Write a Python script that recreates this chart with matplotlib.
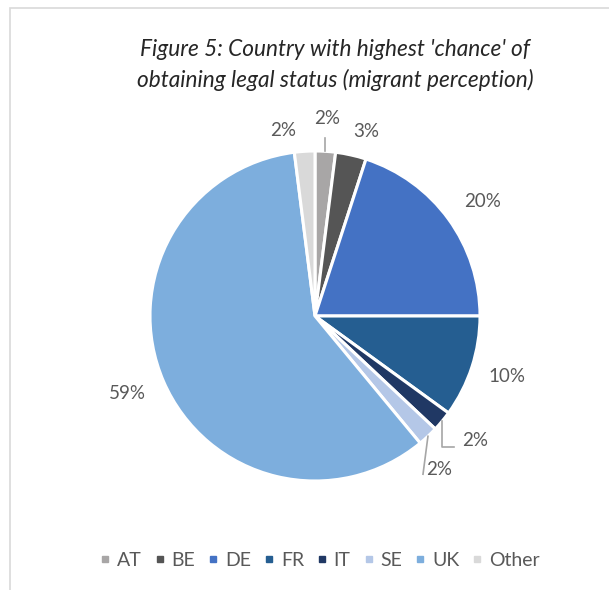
import numpy as np
import matplotlib
matplotlib.use("Agg")
import matplotlib.pyplot as plt
from matplotlib.patches import Rectangle

# Data
countries = ["AT", "BE", "DE", "FR", "IT", "SE", "UK", "Other"]
shares = [2, 3, 20, 10, 2, 2, 59, 2]
colors = ["#A8A6A6", "#555555", "#4472C4", "#255E91", "#203864", "#B4C7E7", "#7DAEDD", "#D9D9D9"]

# label placement (radius factor, angle shift in degrees clockwise from slice middle)
label_dist = [1.2, 1.16, 1.23, 1.22, 1.23, 1.2, 1.23, 1.14]
label_shift = [0, 2.8, 1.6, -0.4, -1.6, 4.2, 0.9, -6.2]

plt.rcParams['font.family'] = ['Lato', 'DejaVu Sans']

W, H, DPI = 609, 590, 100
fig = plt.figure(figsize=(W / DPI, H / DPI), dpi=DPI)

# chart frame (light gray, runs off the right/bottom edge)
fig.patches.append(Rectangle((10 / W, -0.1), 1.2, 1.1 - 8 / H, transform=fig.transFigure,
                             fill=False, edgecolor="#D9D9D9", linewidth=1.2))

# pie centre and radius in pixels
cx, cy, rad = 315, 316, 165
ax = fig.add_axes([0, 0, 1, 1])
wedges, _ = ax.pie(shares, colors=colors, startangle=90, counterclock=False,
                   wedgeprops=dict(edgecolor="white", linewidth=2.2))
ax.set_aspect("auto")
ax.set_xlim(-cx / rad, (W - cx) / rad)
ax.set_ylim((cy - H) / rad, cy / rad)
ax.axis("off")

# data labels
line_col = "#A6A6A6"
for w, name, val, d, s in zip(wedges, countries, shares, label_dist, label_shift):
    mid_deg = (w.theta1 + w.theta2) / 2
    ang = np.deg2rad(mid_deg - s)
    ax.text(d * np.cos(ang), d * np.sin(ang), f"{val}%", ha="center", va="center",
            fontsize=13.5, color="#595959")
    x0, y0 = np.cos(np.deg2rad(mid_deg)), np.sin(np.deg2rad(mid_deg))
    if name == "AT":
        ax.plot([x0, x0], [y0, y0 + 0.08], color=line_col, lw=1.2)
    elif name == "IT":
        ax.plot([x0, x0, x0 + 0.07], [y0, y0 - 0.155, y0 - 0.155], color=line_col, lw=1.2)
    elif name == "SE":
        ax.plot([x0, x0 - 0.03], [y0, y0 - 0.23], color=line_col, lw=1.2)

# title
fig.text(335 / W, 1 - 65 / H, "Figure 5: Country with highest 'chance' of\nobtaining legal status (migrant perception)",
         ha="center", va="center", fontsize=16.3, style="italic", color="#262626", linespacing=1.45)

# legend
handles = [plt.Line2D([], [], marker="s", linestyle="", markersize=5, color=c) for c in colors]
fig.legend(handles, countries, loc="center", bbox_to_anchor=(320 / W, 1 - 560 / H), ncol=8,
           frameon=False, fontsize=14, labelcolor="#595959", handlelength=0.5,
           handletextpad=0.35, columnspacing=0.68)

fig.savefig("out.png", dpi=DPI)
